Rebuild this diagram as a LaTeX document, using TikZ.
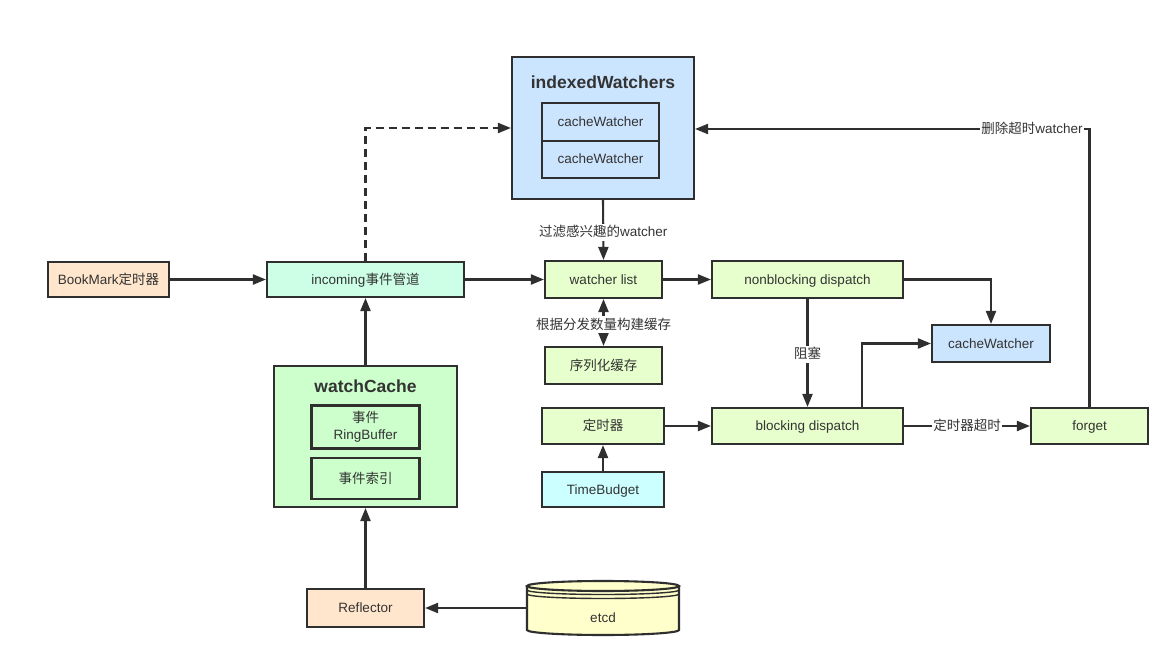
\documentclass[tikz,border=0pt]{standalone}
\usepackage{fontspec}
\setmainfont{Liberation Sans}
\newfontfamily\cjk{Noto Sans CJK SC}
\usetikzlibrary{arrows.meta}
\definecolor{ln}{HTML}{2F2F2F}
\definecolor{txt}{HTML}{333333}
\definecolor{peach}{HTML}{FFE6CC}
\definecolor{mint}{HTML}{CCFFE6}
\definecolor{lgreen}{HTML}{E6FFCC}
\definecolor{lblue}{HTML}{CCE5FF}
\definecolor{green}{HTML}{CCFFCC}
\definecolor{cyan}{HTML}{CCFFFF}
\definecolor{yel}{HTML}{FFFFCC}
\begin{document}
\begin{tikzpicture}[x=1pt,y=-1pt,
  >={Triangle[length=13pt,width=10pt]},
  frame/.style={draw=ln,line width=2.1pt,inner sep=0pt,text=txt,
    font=\fontsize{13.5pt}{17pt}\selectfont},
  box/.style={frame,text height=11.5pt,text depth=2.5pt},
  ttl/.style={text=txt,inner sep=0pt,font=\fontsize{17.5pt}{20pt}\selectfont\bfseries},
  arr/.style={draw=ln,line width=2.1pt,->},
  lbl/.style={fill=white,text=txt,inner sep=1.5pt,text height=11.5pt,text depth=2.5pt,
    font=\fontsize{13.5pt}{17pt}\selectfont}]
\useasboundingbox[fill=white] (0,0) rectangle (1175,660);

% indexedWatchers
\node[frame,fill=lblue,minimum width=182pt,minimum height=142pt] (iw) at (603,128) {};
\node[ttl] (iwt) at (603,82) {indexedWatchers};
\node[box,fill=lblue,minimum width=117pt,minimum height=38pt] (cw1) at (600.5,122) {cacheWatcher};
\node[box,fill=lblue,minimum width=117pt,minimum height=37pt] (cw2) at (600.5,159.5) {cacheWatcher};

% row
\node[box,fill=peach,minimum width=121pt,minimum height=35pt] (bm) at (108.5,279.5) {BookMark{\cjk 定时器}};
\node[box,fill=mint,minimum width=197pt,minimum height=35pt] (inc) at (365.5,279.5) {incoming{\cjk 事件管道}};
\node[box,fill=lgreen,minimum width=117pt,minimum height=37pt] (wl) at (603.5,279.5) {watcher list};
\node[box,fill=lgreen,minimum width=191pt,minimum height=37pt] (nb) at (807.5,279.5) {nonblocking dispatch};
\node[box,fill=lgreen,minimum width=117pt,minimum height=37pt] (ser) at (603.5,365.5) {\cjk 序列化缓存};
\node[box,fill=lblue,minimum width=118pt,minimum height=37pt] (cwr) at (991,343.5) {cacheWatcher};

\node[box,fill=lgreen,minimum width=122pt,minimum height=36pt] (tm) at (603,426) {\cjk 定时器};
\node[box,fill=lgreen,minimum width=191pt,minimum height=36pt] (bd) at (807.5,426) {blocking dispatch};
\node[box,fill=lgreen,minimum width=117pt,minimum height=36pt] (fg) at (1089.5,426) {forget};
\node[box,fill=cyan,minimum width=122pt,minimum height=35pt] (tb) at (603,489.5) {TimeBudget};

% watchCache
\node[frame,fill=green,minimum width=183pt,minimum height=141pt] (wc) at (365.5,436.5) {};
\node[ttl] (wct) at (365.5,386) {watchCache};
\node[frame,fill=green,align=center,minimum width=108pt,minimum height=43pt] (rb) at (365.5,427) {{\cjk 事件}\\RingBuffer};
\node[box,fill=green,minimum width=108pt,minimum height=41pt] (ei) at (365.5,478.5) {\cjk 事件索引};

\node[box,fill=peach,minimum width=117pt,minimum height=38pt] (refl) at (365.5,608) {Reflector};

% etcd cylinder
\node[inner sep=0pt,minimum width=152pt,minimum height=54pt] (etcd) at (603,608) {};
\fill[yel] (527,586) rectangle (679,630);
\fill[yel] (603,630) ellipse[x radius=76pt,y radius=5pt];
\draw[ln,line width=2.1pt] (527,586) -- (527,630)
  arc[start angle=180,end angle=360,x radius=76pt,y radius=5pt] -- (679,586);
\draw[ln,line width=2.1pt,fill=yel] (603,586) ellipse[x radius=76pt,y radius=5pt];
\draw[ln,line width=1.4pt] (527,590) arc[start angle=180,end angle=360,x radius=76pt,y radius=4.5pt];
\draw[ln,line width=1.4pt] (527,594) arc[start angle=180,end angle=360,x radius=76pt,y radius=4.5pt];
\node[text=txt,text height=11.5pt,text depth=2.5pt,inner sep=0pt,font=\fontsize{13.5pt}{17pt}\selectfont] (etcdt) at (603,618) {etcd};

% connectors
\draw[arr] (bm.east) -- (inc.west);
\draw[arr] (inc.east) -- (wl.west);
\draw[arr] (wl.east) -- (nb.west);
\draw[arr] (iw.south) -- node[lbl,pos=0.54]{{\cjk 过滤感兴趣的}watcher} (wl.north);
\draw[draw=ln,line width=2.1pt,<->] (wl.south) -- node[lbl,pos=0.55]{\cjk 根据分发数量构建缓存} (ser.north);
\draw[arr] (nb.south) -- node[lbl,pos=0.51]{\cjk 阻塞} (bd.north);
\draw[arr] (nb.east) -| (cwr.north);
\draw[arr] ([xshift=54.5pt]bd.north) |- (cwr.west);
\draw[arr] (tm.east) -- (bd.west);
\draw[arr] (tb.north) -- (tm.south);
\draw[arr] (bd.east) -- node[lbl,pos=0.5]{\cjk 定时器超时} (fg.west);
\draw[arr] (fg.north) |- node[lbl,pos=0.573]{{\cjk 删除超时}watcher} ([yshift=-1pt]iw.east);
\draw[arr,dash pattern=on 8pt off 5pt] (inc.north) |- (iw.west);
\draw[arr] (wc.north) -- (inc.south);
\draw[arr] (refl.north) -- (wc.south);
\draw[arr] (etcd.west) -- (refl.east);
\end{tikzpicture}
\end{document}
